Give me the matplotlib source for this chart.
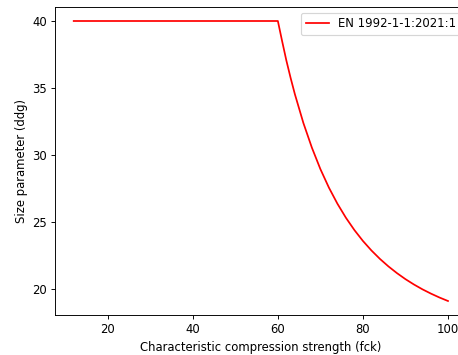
import matplotlib
matplotlib.use('Agg')
import matplotlib.pyplot as plt

# Значения
fck = [12, 20, 30, 40, 50, 60, 61, 62, 63, 64, 66, 68, 70, 72, 74, 76, 78, 80,
       82, 84, 86, 88, 90, 92, 94, 96, 98, 100]
ddg = [40, 40, 40, 40, 40, 40, 38.5, 37.05, 35.75, 34.54, 32.39, 30.55, 28.95,
       27.57, 26.37, 25.32, 24.40, 23.59, 22.88, 22.25, 21.69, 21.19, 20.74,
       20.34, 19.98, 19.66, 19.37, 19.11]
label = 'EN 1992-1-1:2021:1'

# картинка уменьшена примерно в 0.83 раза, поэтому dpi ниже обычного
dpi = 250 / 3
W, H = 458, 355
fig = plt.figure(figsize=(W / dpi, H / dpi), dpi=dpi)
ax = fig.add_axes([55 / W, (H - 315) / H, (466.7 - 55) / W, (315 - 7) / H])

ax.plot(fck, ddg, color='red', label=label)
ax.set_xlabel('Characteristic compression strength (fck)')
ax.set_ylabel('Size parameter (ddg)')
ax.legend(loc='upper right')

plt.savefig('out.png', dpi=dpi)
plt.close(fig)
